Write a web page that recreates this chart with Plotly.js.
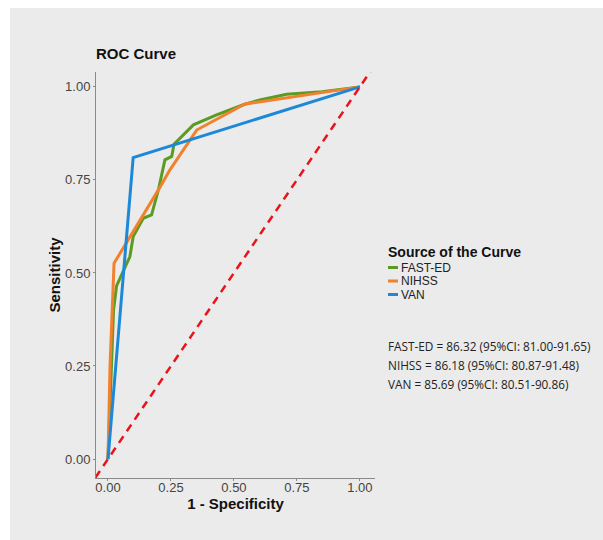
<!DOCTYPE html>
<html>
<head>
<meta charset="utf-8">
<script src="https://cdn.plot.ly/plotly-3.0.1.min.js"></script>
<style>
html,body{margin:0;padding:0;background:#ffffff;}
#chart{position:absolute;left:10px;top:8px;width:593px;height:532px;}
</style>
</head>
<body>
<div id="chart"></div>
<script>
// Data
const fastedX = [0, 0.012, 0.022, 0.034, 0.087, 0.10, 0.14, 0.173, 0.20, 0.226, 0.253, 0.262, 0.339, 0.431, 0.537, 0.603, 0.709, 0.85, 1.0];
const fastedY = [0, 0.20, 0.40, 0.465, 0.544, 0.598, 0.647, 0.656, 0.723, 0.804, 0.813, 0.846, 0.898, 0.925, 0.952, 0.965, 0.980, 0.987, 1.0];
const nihssX = [0, 0.008, 0.024, 0.127, 0.206, 0.246, 0.352, 0.544, 1.0];
const nihssY = [0, 0.25, 0.526, 0.640, 0.730, 0.777, 0.884, 0.954, 1.0];
const vanX = [0, 0.10, 1.0];
const vanY = [0, 0.81, 1.0];
const refX = [-0.05, 1.05];
const refY = [-0.05, 1.05];
const seriesNames = ['FAST-ED', 'NIHSS', 'VAN'];
const legendTitle = 'Source of the Curve';
const aucLabels = [
  'FAST-ED = 86.32 (95%CI: 81.00-91.65)',
  'NIHSS = 86.18 (95%CI: 80.87-91.48)',
  'VAN = 85.69 (95%CI: 80.51-90.86)'
];
const xTicks = [0, 0.25, 0.5, 0.75, 1.0];
const xTickText = ['0.00', '0.25', '0.50', '0.75', '1.00'];
const yTicks = [0, 0.25, 0.5, 0.75, 1.0];
const yTickText = ['0.00', '0.25', '0.50', '0.75', '1.00'];

const colors = ['#5b9b22', '#f2812e', '#1e88d8'];
const seriesX = [fastedX, nihssX, vanX];
const seriesY = [fastedY, nihssY, vanY];

const traces = seriesNames.map((n, i) => ({
  x: seriesX[i], y: seriesY[i], name: n, mode: 'lines', showlegend: false,
  line: {color: colors[i], width: 3}
}));
traces.push({x: refX, y: refY, name: 'reference', mode: 'lines', showlegend: false,
             line: {color: '#e8141c', width: 2.5, dash: '8px,6px'}});

// pixel helpers for paper coords (plot area: x 86..365, y 64..470 inside the 593x532 div)
const px = v => (v - 86) / 279;
const py = v => (470 - v) / 406;

const annFont = {family: 'Open Sans, sans-serif', size: 11.8, color: '#222222'};
const annotations = aucLabels.map((t, i) => ({
  text: t, xref: 'paper', yref: 'paper', x: px(376), y: py(338 + 19 * i),
  xanchor: 'left', yanchor: 'middle', showarrow: false, font: annFont, align: 'left'
}));
annotations.push({
  text: '<b>' + legendTitle + '</b>', xref: 'paper', yref: 'paper', x: px(376), y: py(244),
  xanchor: 'left', yanchor: 'middle', showarrow: false,
  font: {family: 'Liberation Sans, Arial, sans-serif', size: 14, color: '#111111'}
});
const shapes = [];
seriesNames.forEach((n, i) => {
  const yy = py(259.5 + 13.5 * i);
  annotations.push({
    text: n, xref: 'paper', yref: 'paper', x: px(390), y: yy,
    xanchor: 'left', yanchor: 'middle', showarrow: false, borderpad: 0,
    font: {family: 'Liberation Sans, Arial, sans-serif', size: 12, color: '#222222'}
  });
  shapes.push({type: 'line', xref: 'paper', yref: 'paper', x0: px(378), x1: px(388), y0: yy, y1: yy,
               line: {color: colors[i], width: 3}});
});

const layout = {
  width: 593, height: 532,
  paper_bgcolor: '#ebebeb', plot_bgcolor: '#ebebeb',
  margin: {l: 86, r: 228, t: 64, b: 62},
  font: {family: 'Liberation Sans, Arial, sans-serif', color: '#333333'},
  title: {text: '<b>ROC Curve</b>', x: 0, xref: 'paper', xanchor: 'left', y: 1 - 46 / 532, yanchor: 'middle',
          font: {family: 'Liberation Sans, Arial, sans-serif', size: 15, color: '#111111'}},
  xaxis: {range: [-0.0476, 1.06], tickvals: xTicks, ticktext: xTickText, showgrid: false, zeroline: false,
          showline: true, linecolor: '#8a8a8a', linewidth: 1, ticks: 'outside', ticklen: 2, tickcolor: '#8a8a8a',
          ticklabelstandoff: -5,
          tickfont: {size: 13, color: '#444444'},
          title: {text: '<b>1 - Specificity</b>', standoff: 0, font: {size: 15, color: '#111111'}}},
  yaxis: {range: [-0.051, 1.04], tickvals: yTicks, ticktext: yTickText, showgrid: false, zeroline: false,
          showline: true, linecolor: '#8a8a8a', linewidth: 1, ticks: 'outside', ticklen: 2, tickcolor: '#8a8a8a',
          tickfont: {size: 13, color: '#444444'},
          title: {text: '<b>Sensitivity</b>', standoff: 0, font: {size: 15, color: '#111111'}}},
  showlegend: false,
  annotations: annotations,
  shapes: shapes
};

Plotly.newPlot('chart', traces, layout, {displayModeBar: false, staticPlot: true});
</script>
</body>
</html>
